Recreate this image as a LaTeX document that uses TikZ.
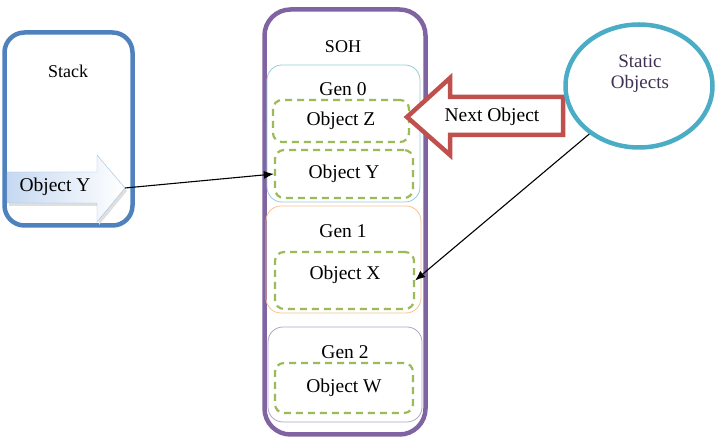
\documentclass[tikz,border=0pt]{standalone}
\usepackage{fontspec}
\setmainfont{Liberation Serif}
\usepackage{tikz}
\usetikzlibrary{arrows.meta,shapes.geometric}

\definecolor{stackblue}{HTML}{4F81BD}
\definecolor{sohpurple}{HTML}{8064A2}
\definecolor{genzero}{HTML}{92CDDC}
\definecolor{genone}{HTML}{FAC090}
\definecolor{gentwo}{HTML}{B3A2C7}
\definecolor{objgreen}{HTML}{9BBB59}
\definecolor{nextred}{HTML}{C0504D}
\definecolor{statteal}{HTML}{4BACC6}
\definecolor{stattext}{HTML}{403152}
\definecolor{arrowblue}{HTML}{C6D9F1}

\begin{document}
\begin{tikzpicture}[x=1pt,y=-1pt,font=\fontsize{19.5}{22}\selectfont,
    bigbox/.style={draw,line width=4.5pt,rounded corners=20pt,inner sep=0pt},
    genbox/.style={draw,line width=0.8pt,rounded corners=15pt,inner sep=0pt},
    objbox/.style={draw=objgreen,line width=2.2pt,dash pattern=on 7pt off 5pt,
      rounded corners=9pt,inner sep=0pt},
    link/.style={-{Latex[length=10pt,width=8pt]},line width=1.1pt}]
        \useasboundingbox (0,0) rectangle (716,443);
        % stack
        \node[bigbox,draw=stackblue,minimum width=128pt,minimum height=193pt] (stack) at (68.5,129) {};
        \node[font=\fontsize{18}{21}\selectfont] (stacklbl) at (68,71) {Stack};
        % arrow with Object Y (shadow first)
        \fill[gray!25,shift={(2,3)}] (7,172) -- (97,172) -- (97,155) -- (125,188)
          -- (97,222) -- (97,203) -- (7,203) -- cycle;
        \draw[draw=arrowblue!70!stackblue,shading=axis,left color=arrowblue,right color=white]
          (7,172) -- (97,172) -- (97,155) -- (125,188) coordinate (ytip)
          -- (97,222) -- (97,203) -- (7,203) -- cycle;
        \node (stacky) at (55,187) {Object Y};
        % SOH with the three generations
        \node[bigbox,draw=sohpurple,rounded corners=26pt,minimum width=161pt,minimum height=425pt] (soh) at (345,222) {};
        \node[font=\fontsize{18}{21}\selectfont] (sohlbl) at (343,47) {SOH};
        \node[genbox,draw=genzero,minimum width=153pt,minimum height=137pt] (gen0) at (343.5,133.5) {};
        \node[genbox,draw=genone,minimum width=155pt,minimum height=107pt] (gen1) at (343.5,259.5) {};
        \node[genbox,draw=gentwo,minimum width=154pt,minimum height=95pt] (gen2) at (345,374.5) {};
        \node (gen0lbl) at (343,89) {Gen 0};
        \node (gen1lbl) at (343,231) {Gen 1};
        \node (gen2lbl) at (345,352) {Gen 2};
        \node[objbox,minimum width=136pt,minimum height=42pt] (objz) at (341,121) {Object Z};
        \node[objbox,minimum width=138pt,minimum height=48pt] (objy) at (344,174) {Object Y};
        \node[objbox,minimum width=139pt,minimum height=57pt] (objx) at (344.5,280.5) {};
        \node (objxlbl) at (345,275) {Object X};
        \node[objbox,minimum width=138pt,minimum height=50pt] (objw) at (344,388) {Object W};
        % next object pointer
        \draw[nextred,fill=white,line width=4.5pt,line join=miter]
          (407,117) coordinate (nexttip) -- (450,78) -- (450,97) -- (563,97)
          -- (563,135) -- (450,135) -- (450,155) -- cycle;
        \node (nextlbl) at (492,117) {Next Object};
        % static objects
        \node[ellipse,draw=statteal,line width=4.5pt,minimum width=147pt,minimum height=123pt] (static) at (639,86) {};
        \node[text=stattext,align=center,font=\fontsize{19}{21}\selectfont] (statlbl) at (640,74) {Static\\Objects};
        % references
        \draw[link] (ytip) -- (objy.west);
        \draw[link] (static.224) -- (objx.east);
\end{tikzpicture}
\end{document}
